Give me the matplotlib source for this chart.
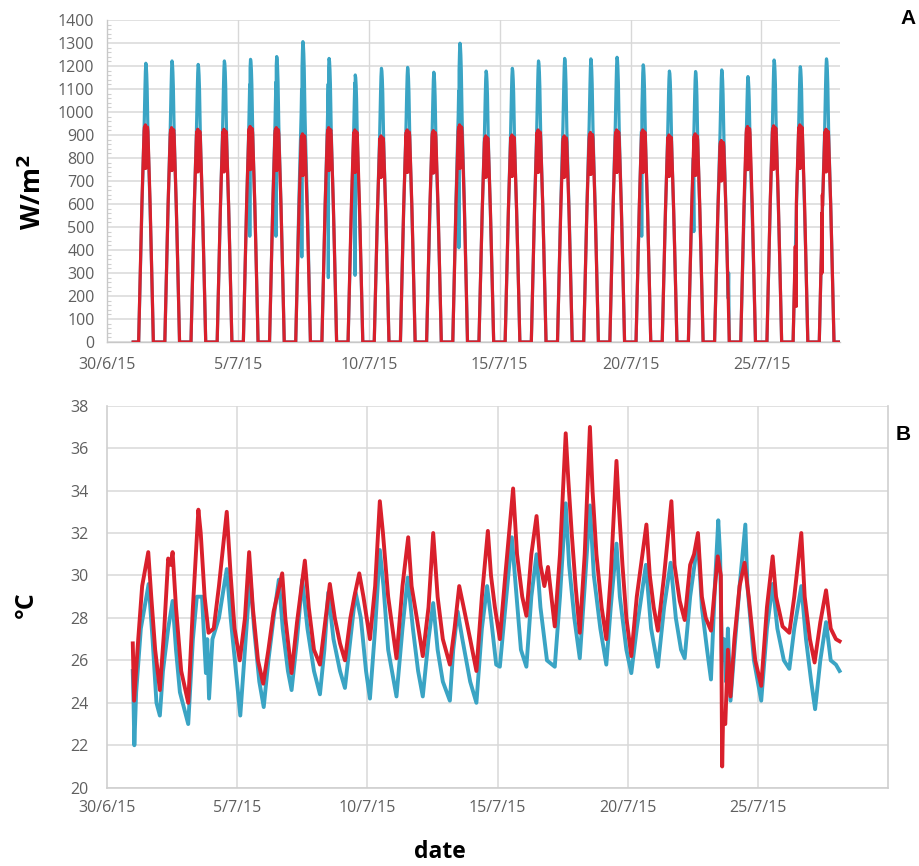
import matplotlib
matplotlib.use("Agg")
import matplotlib.pyplot as plt
from matplotlib.ticker import MultipleLocator, FixedLocator

# ---------------- data ----------------
# x axis: days since 30/6/15 00:00
TICK_DAYS = [0, 5, 10, 15, 20, 25]
TICK_LABELS = ["30/6/15", "5/7/15", "10/7/15", "15/7/15", "20/7/15", "25/7/15"]

# Panel A: solar radiation, one bell per day (1/7 .. 27/7)
RAD_DAYS = list(range(1, 28))
BLUE_PEAK = [1212, 1222, 1207, 1222, 1229, 1241, 1306, 1233, 1161, 1190, 1194, 1173, 1299, 1178,
             1190, 1222, 1233, 1231, 1238, 1205, 1178, 1176, 1183, 1154, 1226, 1197, 1231]
RED_PEAK = [944, 932, 925, 925, 937, 932, 905, 932, 922, 896, 922, 919, 944, 896,
            900, 922, 896, 911, 922, 922, 900, 905, 876, 937, 940, 944, 925]
# typical daily course (hour of day, fraction of the daily peak)
RAD_HOURS = [5.0, 6.0, 7.0, 8.0, 8.8, 9.5, 10.0, 10.4, 10.8, 11.2, 11.6, 12.0, 12.4, 12.8,
             13.1, 13.5, 14.0, 14.7, 15.5, 16.5, 17.5, 18.5]
RED_SHAPE = [0, .22, .44, .64, .78, .89, .97, .99, .80, 1.0, .80, .99, .82, .98,
             .99, .97, .89, .78, .64, .44, .22, 0]
BLUE_SHAPE = [0, .16, .33, .48, .59, .68, .76, .84, .91, .97, 1.0, .99, .96, .91,
              .84, .76, .68, .59, .48, .33, .16, 0]
# cloud passages (day, hour, value)
BLUE_EVT_DAY = [5, 6, 7, 8, 9, 13, 20, 22, 23]
BLUE_EVT_HOUR = [10.9, 10.9, 10.6, 10.9, 11.4, 10.6, 10.2, 10.0, 17.9]
BLUE_EVT_VAL = [460, 460, 370, 280, 290, 410, 460, 480, 300]
RED_EVT_DAY = [26, 27, 27, 27]
RED_EVT_HOUR = [8.0, 7.2, 7.5, 7.8]
RED_EVT_VAL = [155, 560, 300, 640]

# Panel B: temperature (time in days since 30/6, value in degC)
RED_T_TIME = [0.99, 1.04, 1.2, 1.35, 1.585, 1.7, 1.85, 2.03, 2.2, 2.35, 2.45, 2.52, 2.65, 2.85, 3.12,
              3.3, 3.51, 3.6, 3.75, 3.9, 4.1, 4.3, 4.6, 4.75, 4.9, 5.1, 5.3, 5.46, 5.6, 5.8, 6.0,
              6.2, 6.4, 6.73, 6.85, 7.09, 7.3, 7.6, 7.75, 7.95, 8.18, 8.35, 8.56, 8.75, 8.95, 9.14,
              9.35, 9.5, 9.69, 9.85, 10.1, 10.3, 10.48, 10.6, 10.8, 11.12, 11.35, 11.57, 11.7, 11.9,
              12.13, 12.35, 12.53, 12.7, 12.9, 13.17, 13.35, 13.53, 13.7, 13.95, 14.19, 14.4, 14.63,
              14.75, 14.9, 15.09, 15.3, 15.6, 15.75, 15.95, 16.11, 16.3, 16.5, 16.65, 16.8, 16.94,
              17.2, 17.4, 17.62, 17.72, 17.85, 18.0, 18.16, 18.35, 18.55, 18.65, 18.8, 19.0, 19.18,
              19.35, 19.57, 19.65, 19.8, 19.95, 20.14, 20.35, 20.72, 20.85, 21.0, 21.16, 21.4, 21.68,
              21.8, 22.0, 22.19, 22.4, 22.55, 22.7, 22.85, 23.0, 23.2, 23.46, 23.58, 23.63, 23.66,
              23.75, 23.85, 23.95, 24.1, 24.3, 24.49, 24.65, 24.9, 25.13, 25.35, 25.57, 25.7, 25.95,
              26.21, 26.4, 26.67, 26.8, 27.0, 27.18, 27.4, 27.62, 27.8, 28.0, 28.14]
RED_T_VAL = [26.8, 24.1, 27.0, 29.5, 31.1, 29.0, 26.5, 24.6, 27.5, 30.8, 30.5, 31.1, 28.5, 25.5, 24.0,
             28.5, 33.1, 32.0, 29.0, 27.3, 27.5, 29.5, 33.0, 30.0, 27.5, 26.0, 28.0, 31.1, 28.5, 26.0, 24.9,
             26.5, 28.3, 30.1, 28.0, 25.4, 27.8, 30.7, 28.5, 26.5, 25.8, 27.5, 29.6, 28.0, 26.8, 26.0,
             28.0, 29.0, 30.1, 29.0, 27.0, 29.5, 33.5, 32.0, 29.0, 26.1, 29.5, 31.8, 29.5, 28.0,
             26.2, 28.5, 32.0, 29.0, 27.0, 25.8, 27.5, 29.5, 28.5, 27.0, 25.5, 29.0, 32.1,
             30.0, 28.5, 27.0, 30.0, 34.1, 31.0, 29.0, 28.1, 31.0, 32.8, 30.5, 29.5, 30.4,
             27.6, 31.0, 36.7, 34.5, 32.0, 29.5, 27.3, 31.0, 37.0, 34.0, 31.0, 28.5, 27.0,
             30.0, 35.4, 33.5, 30.5, 28.0, 26.2, 29.0, 32.4, 30.0, 28.5, 27.4, 30.0, 33.5,
             30.5, 28.8, 27.9, 30.5, 31.0, 32.0, 29.0, 28.0, 27.4, 30.9, 30.0, 21.0, 23.0,
             23.0, 26.5, 24.3, 27.0, 29.5, 30.6, 29.0, 26.0, 24.8, 28.5, 30.9, 29.0, 27.6,
             27.3, 29.0, 32.0, 29.0, 27.0, 25.9, 27.8, 29.3, 27.5, 27.0, 26.9]
BLUE_T_TIME = [0.99, 1.02, 1.05, 1.12, 1.3, 1.6, 1.75, 1.9, 2.03, 2.15, 2.35, 2.52, 2.65, 2.8, 3.12,
               3.3, 3.45, 3.65, 3.8, 3.85, 3.92, 4.05, 4.3, 4.6, 4.75, 4.95, 5.12, 5.3, 5.5, 5.65,
               5.85, 6.02, 6.2, 6.4, 6.6, 6.75, 6.95, 7.09, 7.3, 7.5, 7.7, 7.95, 8.18, 8.35, 8.5,
               8.7, 8.95, 9.14, 9.35, 9.55, 9.75, 9.95, 10.1, 10.3, 10.48, 10.62, 10.8, 11.12, 11.35,
               11.55, 11.75, 11.95, 12.13, 12.35, 12.53, 12.7, 12.9, 13.17, 13.3, 13.47, 13.65, 13.95,
               14.19, 14.4, 14.6, 14.75, 14.95, 15.09, 15.3, 15.55, 15.7, 15.9, 16.11, 16.3, 16.5,
               16.65, 16.9, 17.2, 17.4, 17.62, 17.75, 17.95, 18.16, 18.35, 18.55, 18.7, 18.95, 19.18,
               19.35, 19.57, 19.7, 19.95, 20.14, 20.35, 20.7, 20.9, 21.16, 21.4, 21.65, 21.85, 22.05,
               22.19, 22.4, 22.7, 22.85, 23.05, 23.2, 23.35, 23.48, 23.55, 23.62, 23.7, 23.78, 23.85,
               23.95, 24.1, 24.3, 24.52, 24.6, 24.85, 25.13, 25.35, 25.57, 25.75, 26.0, 26.21, 26.4,
               26.67, 26.85, 27.05, 27.2, 27.4, 27.62, 27.8, 28.0, 28.14]
BLUE_T_VAL = [25.5, 24.0, 22.0, 24.5, 27.5, 29.6, 27.0, 24.0, 23.4, 25.5, 27.5, 28.8, 26.5, 24.5, 23.0,
              27.0, 29.0, 29.0, 25.4, 27.0, 24.2, 27.0, 28.0, 30.3, 28.0, 25.5, 23.4, 26.5, 30.0, 27.5,
              25.0, 23.8, 26.0, 28.0, 29.8, 27.5, 25.5, 24.6, 27.0, 29.8, 27.5, 25.5, 24.4, 26.5, 29.2,
              27.0, 25.5, 24.7, 27.0, 29.2, 28.0, 25.5, 24.2, 27.5, 31.2, 29.5, 26.5, 24.3, 27.5,
              29.9, 27.5, 25.5, 24.3, 27.0, 28.7, 26.5, 25.0, 24.1, 26.5, 28.3, 27.0, 25.0,
              24.0, 27.5, 29.5, 28.0, 25.8, 25.7, 28.5, 31.8, 29.5, 26.5, 25.7, 29.0, 31.0,
              28.5, 26.0, 25.7, 29.0, 33.4, 30.5, 28.0, 26.1, 29.5, 33.3, 30.0, 27.5, 25.8,
              28.5, 31.5, 29.0, 26.5, 25.4, 27.5, 30.5, 27.5, 25.7, 28.5, 30.6, 28.0, 26.5,
              26.1, 29.0, 31.7, 28.5, 26.5, 25.1, 29.5, 32.6, 31.0, 26.0, 27.0, 25.0, 27.5,
              24.1, 26.5, 29.5, 32.4, 29.5, 26.0, 24.1, 27.5, 29.6, 27.5, 26.0, 25.6, 27.5,
              29.5, 27.0, 25.0, 23.7, 26.0, 27.8, 26.0, 25.8, 25.5]

# ---------------- build radiation series ----------------
def build(peaks, shape, evt_day, evt_hour, evt_val):
    t, v = [1.0], [0.0]
    for day, pk in zip(RAD_DAYS, peaks):
        pts = [(h, s * pk) for h, s in zip(RAD_HOURS, shape)]
        pts += [(h, val) for d, h, val in zip(evt_day, evt_hour, evt_val) if d == day]
        pts.sort()
        for h, val in pts:
            t.append(day + h / 24.0)
            v.append(val)
    t.append(28.0)
    v.append(0.0)
    return t, v

bt, bv = build(BLUE_PEAK, BLUE_SHAPE, BLUE_EVT_DAY, BLUE_EVT_HOUR, BLUE_EVT_VAL)
rt, rv = build(RED_PEAK, RED_SHAPE, RED_EVT_DAY, RED_EVT_HOUR, RED_EVT_VAL)

# ---------------- styling ----------------
BLUE = "#3aa4c4"
RED = "#d9202c"
GRID = "#d8d8d8"
TICKC = "#5f5f5f"
TFONT = "Open Sans"

fig = plt.figure(figsize=(9.19, 8.66), dpi=100)
axA = fig.add_axes([107 / 919, 1 - 342 / 866, (840 - 107) / 919, (342 - 20) / 866])
axB = fig.add_axes([107 / 919, 1 - 787.7 / 866, (888 - 107) / 919, (787.7 - 405.7) / 866])

# Panel A
axA.plot(bt, bv, color=BLUE, lw=2.3, solid_joinstyle="round", zorder=3)
axA.plot(rt, rv, color=RED, lw=2.3, solid_joinstyle="round", zorder=4)
axA.set_xlim(0, 28)
axA.set_ylim(0, 1400)
axA.yaxis.set_major_locator(MultipleLocator(100))
axA.yaxis.set_minor_locator(MultipleLocator(20))
axA.xaxis.set_major_locator(FixedLocator(TICK_DAYS))
axA.set_xticklabels(TICK_LABELS)
axA.grid(True, axis="y", color=GRID, lw=1.1, zorder=0)
for d in TICK_DAYS[1:]:
    axA.axvline(d, color=GRID, lw=1.0, zorder=0)
for s in ["top", "right"]:
    axA.spines[s].set_visible(False)
for s in ["left", "bottom"]:
    axA.spines[s].set_color("#c8c8c8")
    axA.spines[s].set_linewidth(1.0)
axA.tick_params(axis="both", which="major", length=0, colors=TICKC, labelsize=11.5)
axA.tick_params(axis="y", which="minor", length=3, direction="in", color="#cfcfcf", width=0.8)
axA.tick_params(axis="y", pad=9)
axA.tick_params(axis="x", pad=11)

# Panel B
axB.plot(BLUE_T_TIME, BLUE_T_VAL, color=BLUE, lw=2.8, solid_joinstyle="round", zorder=3)
axB.plot(RED_T_TIME, RED_T_VAL, color=RED, lw=2.8, solid_joinstyle="round", zorder=4)
axB.set_xlim(0, 30)
axB.set_ylim(20, 38)
axB.yaxis.set_major_locator(MultipleLocator(2))
axB.xaxis.set_major_locator(FixedLocator(TICK_DAYS))
axB.set_xticklabels(TICK_LABELS)
axB.grid(True, axis="y", color=GRID, lw=1.1, zorder=0)
for d in TICK_DAYS[1:]:
    axB.axvline(d, color=GRID, lw=1.1, zorder=0)
axB.spines["top"].set_visible(False)
for s in ["left", "bottom", "right"]:
    axB.spines[s].set_color("#cfcfcf")
    axB.spines[s].set_linewidth(1.2)
axB.tick_params(axis="both", length=0, colors=TICKC, labelsize=11.5)
axB.tick_params(axis="y", pad=13)
axB.tick_params(axis="x", pad=9)

for ax in (axA, axB):
    for lab in ax.get_xticklabels() + ax.get_yticklabels():
        lab.set_fontfamily(TFONT)

# labels
fig.text(33 / 919, 1 - 192 / 866, r"W/m$^{\mathbf{2}}$", rotation=90, ha="center", va="center",
         fontsize=19, fontweight="bold", family="Open Sans")
fig.text(26 / 919, 1 - 605 / 866, "°C", rotation=90, ha="center", va="center",
         fontsize=18, fontweight="bold", family="Open Sans")
fig.text(440 / 919, 1 - 852 / 866, "date", ha="center", va="center",
         fontsize=16.5, fontweight="bold", family="Open Sans")
fig.text(908 / 919, 1 - 18 / 866, "A", ha="center", va="center",
         fontsize=15, fontweight="bold", family="Liberation Sans")
fig.text(903 / 919, 1 - 434 / 866, "B", ha="center", va="center",
         fontsize=15, fontweight="bold", family="Liberation Sans")

fig.savefig("out.png", dpi=100, facecolor="white")
